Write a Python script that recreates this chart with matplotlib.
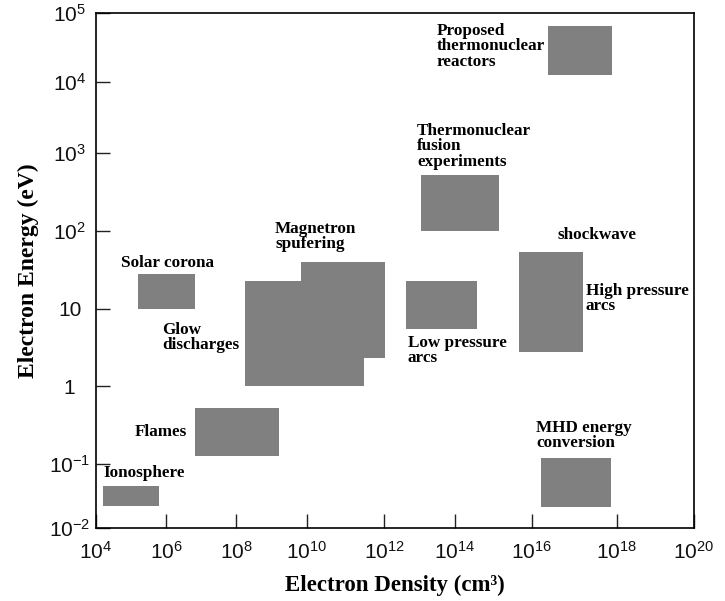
import numpy as np
import matplotlib
matplotlib.use("Agg")
import matplotlib.pyplot as plt
from matplotlib.patches import Rectangle

plt.rcParams['mathtext.default'] = 'regular'

# Plasma regimes: density range [cm^-3] and electron energy range [eV]
regimes = ["Ionosphere", "Solar corona", "Flames", "Glow discharges",
           "Magnetron sputtering", "Low pressure arcs", "Fusion experiments",
           "High pressure arcs", "Proposed reactors", "MHD conversion"]
density_min = [1.6e4, 1.6e5, 6.8e6, 1.8e8, 6.8e9, 4.2e12, 1.1e13, 4.6e15, 2.4e16, 1.6e16]
density_max = [6.3e5, 6.8e6, 1.6e9, 3.0e11, 1.07e12, 3.7e14, 1.4e15, 1.6e17, 7.6e17, 7.2e17]
energy_min = [0.022, 10.0, 0.126, 1.0, 2.3, 5.5, 100.0, 2.8, 1.26e4, 0.021]
energy_max = [0.046, 28.0, 0.52, 23.0, 40.0, 23.0, 520.0, 54.0, 6.4e4, 0.12]

x_decades = [4, 6, 8, 10, 12, 14, 16, 18, 20]
x_ticklabels = [r'$10^{4}$', r'$10^{6}$', r'$10^{8}$', r'$10^{10}$', r'$10^{12}$',
                r'$10^{14}$', r'$10^{16}$', r'$10^{18}$', r'$10^{20}$']
y_decades = [-2, -1, 0, 1, 2, 3, 4, 5]
y_ticklabels = [r'$10^{-2}$', r'$10^{-1}$', '1', '10', r'$10^{2}$', r'$10^{3}$',
                r'$10^{4}$', r'$10^{5}$']

# Hand-drafted log axes: each decade tick sits at its own drawn position
x_knots = np.array([96, 166, 236, 307, 384, 455, 532, 617, 694], float)
y_knots = -np.array([528, 464, 386, 309, 231, 153, 82, 12.5], float)


def make_scale(decades, knots):
    dec = np.array(decades, float)

    def forward(v):
        v = np.asarray(v, float)
        with np.errstate(divide='ignore', invalid='ignore'):
            lv = np.log10(np.clip(v, 1e-300, None))
        return np.interp(lv, dec, knots)

    def inverse(t):
        t = np.asarray(t, float)
        return 10.0 ** np.interp(t, knots, dec)

    return forward, inverse


W, H = 725, 601
fig = plt.figure(figsize=(W / 100, H / 100), dpi=100)
ax = fig.add_axes([96 / W, 1 - 528 / H, (694 - 96) / W, (528 - 12.5) / H])

ax.set_xscale('function', functions=make_scale(x_decades, x_knots))
ax.set_yscale('function', functions=make_scale(y_decades, y_knots))
ax.set_xlim(1e4, 1e20)
ax.set_ylim(1e-2, 1e5)

for x0, x1, y0, y1 in zip(density_min, density_max, energy_min, energy_max):
    ax.add_patch(Rectangle((x0, y0), x1 - x0, y1 - y0, facecolor='#808080',
                           edgecolor='none', linewidth=0))

ax.set_xticks([10.0 ** d for d in x_decades])
ax.set_xticklabels(x_ticklabels)
ax.set_yticks([10.0 ** d for d in y_decades])
ax.set_yticklabels(y_ticklabels)
ax.minorticks_off()
ax.tick_params(direction='in', length=10, width=1, color='#222222',
               labelsize=15, top=False, right=False)
ax.tick_params(axis='y', pad=19)
ax.tick_params(axis='x', pad=9)
for lab in ax.get_xticklabels() + ax.get_yticklabels():
    lab.set_fontfamily('Liberation Sans')
    lab.set_color('#111111')
for lab in ax.get_yticklabels():
    lab.set_horizontalalignment('center')
for sp in ax.spines.values():
    sp.set_linewidth(1.2)
    sp.set_color('black')

serif = dict(family='Liberation Serif', weight='bold')
ax.set_xlabel('Electron Density (cm³)', fontsize=16.5, labelpad=9, **serif)
ax.set_ylabel('Electron Energy (eV)', fontsize=17, labelpad=7, **serif)


def label(px, py, s, ha='left', va='top'):
    fig.text(px / W, 1 - py / H, s, ha=ha, va=va, fontsize=12.3,
             linespacing=0.95, **serif)


label(121, 255, 'Solar corona')
label(162, 322, 'Glow\ndischarges')
label(187, 432, 'Flames', ha='right', va='center')
label(103, 473, 'Ionosphere', va='center')
label(275, 221, 'Magnetron\nspufering')
label(417, 123, 'Thermonuclear\nfusion\nexperiments')
label(408, 335, 'Low pressure\narcs')
label(597, 235, 'shockwave', ha='center', va='center')
label(586, 283, 'High pressure\narcs')
label(536, 420, 'MHD energy\nconversion')
label(437, 23, 'Proposed\nthermonuclear\nreactors')

fig.savefig('out.png', dpi=100)
